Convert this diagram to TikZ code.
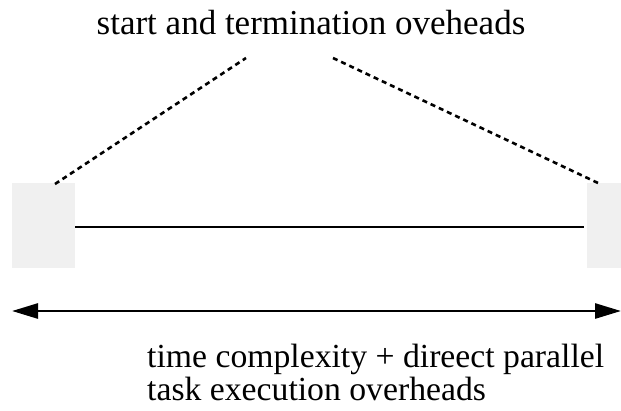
\documentclass[tikz,border=0pt]{standalone}
\usepackage{fontspec}
\setmainfont{Liberation Serif}
\usetikzlibrary{arrows.meta}
\begin{document}
\begin{tikzpicture}[x=1pt,y=-1pt,
  ovbox/.style={fill=black!6,draw=none,inner sep=0pt},
  lbl/.style={inner sep=0pt,font=\fontsize{35}{34}\selectfont},
  blbl/.style={inner sep=0pt,font=\fontsize{33.7}{33}\selectfont},
  dline/.style={line width=2.6pt,dash pattern=on 5pt off 4pt},
  solidline/.style={line width=2.7pt}]
\useasboundingbox (0,0) rectangle (621,410);
\node[ovbox,minimum width=63pt,minimum height=85pt] (lb) at (43.5,225.5) {};
\node[ovbox,minimum width=34pt,minimum height=85pt] (rb) at (604,225.5) {};
\coordinate (lt) at (55,184);
\coordinate (rt) at (598,183);
\coordinate (lc) at (246,58);
\coordinate (rc) at (333,58);
\draw[dline] (lt) -- (lc);
\draw[dline] (rc) -- (rt);
\coordinate (ms) at (75,227);
\coordinate (me) at (584,227);
\draw[solidline] (ms) -- (me);
\coordinate (al) at (12,311);
\coordinate (ar) at (621,311);
\draw[solidline,{Triangle[length=26pt,width=15pt]}-{Triangle[length=26pt,width=15pt]}] (al) -- (ar);
\node[lbl,anchor=base] (top) at (311,34) {start and termination oveheads};
\node[blbl,anchor=base west] (b1) at (147,367) {time complexity + direect parallel};
\node[blbl,anchor=base west] (b2) at (147,400) {task execution overheads};
\end{tikzpicture}
\end{document}
